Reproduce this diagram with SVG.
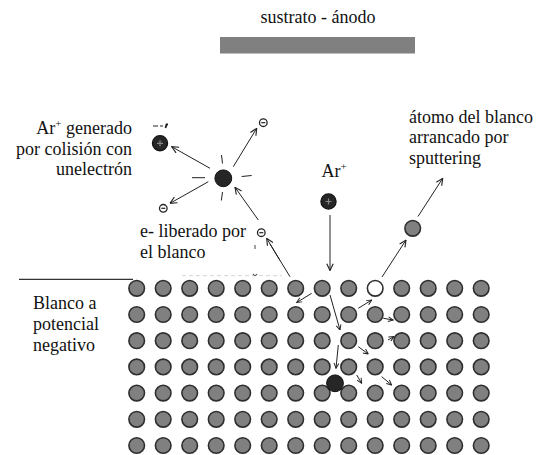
<svg xmlns="http://www.w3.org/2000/svg" width="538" height="455" viewBox="0 0 538 455">
  <style>
    .lbl { font-family: "Liberation Serif", serif; font-size: 18px; fill: #111; }
    .sup { font-size: 11px; }
    .ln { stroke: #222; stroke-width: 1; fill: none; }
    .arr { stroke: #222; stroke-width: 1; fill: none; marker-end: url(#head); }
    .arr-s { stroke: #222; stroke-width: 1; fill: none; marker-end: url(#headS); }
    .atom { fill: #808080; stroke: #2e2e2e; stroke-width: 1.6; }
    .ion { fill: #262626; stroke: #111; stroke-width: 1.2; }
    .vac { fill: #fff; stroke: #2e2e2e; stroke-width: 1.6; }
    .el { fill: #fff; stroke: #222; stroke-width: 1.3; }
  </style>
  <defs>
    <marker id="head" viewBox="0 0 10 10" refX="9.5" refY="5" markerWidth="8" markerHeight="8" markerUnits="userSpaceOnUse" orient="auto">
      <path d="M1,1 L9.5,5 L1,9" fill="none" stroke="#222" stroke-width="1.4"/>
    </marker>
    <marker id="headS" viewBox="0 0 10 10" refX="9.5" refY="5" markerWidth="6" markerHeight="6" markerUnits="userSpaceOnUse" orient="auto">
      <path d="M1,1 L9.5,5 L1,9" fill="none" stroke="#222" stroke-width="1.6"/>
    </marker>
    <circle id="atom" r="7.8" class="atom"/>
    <!-- electron: small open circle with minus sign -->
    <g id="electron">
      <circle r="3.8" class="el"/>
      <line x1="-2" y1="0" x2="2" y2="0" stroke="#222" stroke-width="1.2"/>
    </g>
    <!-- positive ion: dark disc with plus sign -->
    <g id="plusIon">
      <circle r="7.6" class="ion"/>
      <path d="M-3,0 H3 M0,-3 V3" stroke="#888" stroke-width="1.2"/>
    </g>
  </defs>

  <rect width="538" height="455" fill="#fff"/>

  <!-- substrate / anode -->
  <g id="anode">
    <text class="lbl" font-family="Liberation Serif" x="318" y="23" text-anchor="middle">sustrato - ánodo</text>
    <rect x="220" y="37" width="195" height="16.5" fill="#808080"/>
  </g>

  <!-- target surface label -->
  <g id="target-label">
    <line x1="19" y1="279.3" x2="133" y2="279.3" stroke="#333" stroke-width="1.2"/>
    <text class="lbl" font-family="Liberation Serif" x="33" y="309">Blanco a</text>
    <text class="lbl" font-family="Liberation Serif" x="33" y="330">potencial</text>
    <text class="lbl" font-family="Liberation Serif" x="33" y="351">negativo</text>
  </g>

  <!-- target lattice: 14 columns x 7 rows -->
  <g id="lattice">
    <use href="#atom" x="136.7" y="288.3"/><use href="#atom" x="163.2" y="288.3"/><use href="#atom" x="189.7" y="288.3"/><use href="#atom" x="216.2" y="288.3"/><use href="#atom" x="242.7" y="288.3"/><use href="#atom" x="269.2" y="288.3"/><use href="#atom" x="295.7" y="288.3"/><use href="#atom" x="322.2" y="288.3"/><use href="#atom" x="348.7" y="288.3"/><use href="#atom" x="401.7" y="288.3"/><use href="#atom" x="428.2" y="288.3"/><use href="#atom" x="454.7" y="288.3"/><use href="#atom" x="481.2" y="288.3"/>
    <use href="#atom" x="136.7" y="314.5"/><use href="#atom" x="163.2" y="314.5"/><use href="#atom" x="189.7" y="314.5"/><use href="#atom" x="216.2" y="314.5"/><use href="#atom" x="242.7" y="314.5"/><use href="#atom" x="269.2" y="314.5"/><use href="#atom" x="295.7" y="314.5"/><use href="#atom" x="322.2" y="314.5"/><use href="#atom" x="348.7" y="314.5"/><use href="#atom" x="375.2" y="314.5"/><use href="#atom" x="401.7" y="314.5"/><use href="#atom" x="428.2" y="314.5"/><use href="#atom" x="454.7" y="314.5"/><use href="#atom" x="481.2" y="314.5"/>
    <use href="#atom" x="136.7" y="340.7"/><use href="#atom" x="163.2" y="340.7"/><use href="#atom" x="189.7" y="340.7"/><use href="#atom" x="216.2" y="340.7"/><use href="#atom" x="242.7" y="340.7"/><use href="#atom" x="269.2" y="340.7"/><use href="#atom" x="295.7" y="340.7"/><use href="#atom" x="322.2" y="340.7"/><use href="#atom" x="348.7" y="340.7"/><use href="#atom" x="375.2" y="340.7"/><use href="#atom" x="401.7" y="340.7"/><use href="#atom" x="428.2" y="340.7"/><use href="#atom" x="454.7" y="340.7"/><use href="#atom" x="481.2" y="340.7"/>
    <use href="#atom" x="136.7" y="366.9"/><use href="#atom" x="163.2" y="366.9"/><use href="#atom" x="189.7" y="366.9"/><use href="#atom" x="216.2" y="366.9"/><use href="#atom" x="242.7" y="366.9"/><use href="#atom" x="269.2" y="366.9"/><use href="#atom" x="295.7" y="366.9"/><use href="#atom" x="322.2" y="366.9"/><use href="#atom" x="348.7" y="366.9"/><use href="#atom" x="375.2" y="366.9"/><use href="#atom" x="401.7" y="366.9"/><use href="#atom" x="428.2" y="366.9"/><use href="#atom" x="454.7" y="366.9"/><use href="#atom" x="481.2" y="366.9"/>
    <use href="#atom" x="136.7" y="393.1"/><use href="#atom" x="163.2" y="393.1"/><use href="#atom" x="189.7" y="393.1"/><use href="#atom" x="216.2" y="393.1"/><use href="#atom" x="242.7" y="393.1"/><use href="#atom" x="269.2" y="393.1"/><use href="#atom" x="295.7" y="393.1"/><use href="#atom" x="322.2" y="393.1"/><use href="#atom" x="348.7" y="393.1"/><use href="#atom" x="375.2" y="393.1"/><use href="#atom" x="401.7" y="393.1"/><use href="#atom" x="428.2" y="393.1"/><use href="#atom" x="454.7" y="393.1"/><use href="#atom" x="481.2" y="393.1"/>
    <use href="#atom" x="136.7" y="419.3"/><use href="#atom" x="163.2" y="419.3"/><use href="#atom" x="189.7" y="419.3"/><use href="#atom" x="216.2" y="419.3"/><use href="#atom" x="242.7" y="419.3"/><use href="#atom" x="269.2" y="419.3"/><use href="#atom" x="295.7" y="419.3"/><use href="#atom" x="322.2" y="419.3"/><use href="#atom" x="348.7" y="419.3"/><use href="#atom" x="375.2" y="419.3"/><use href="#atom" x="401.7" y="419.3"/><use href="#atom" x="428.2" y="419.3"/><use href="#atom" x="454.7" y="419.3"/><use href="#atom" x="481.2" y="419.3"/>
    <use href="#atom" x="136.7" y="445.5"/><use href="#atom" x="163.2" y="445.5"/><use href="#atom" x="189.7" y="445.5"/><use href="#atom" x="216.2" y="445.5"/><use href="#atom" x="242.7" y="445.5"/><use href="#atom" x="269.2" y="445.5"/><use href="#atom" x="295.7" y="445.5"/><use href="#atom" x="322.2" y="445.5"/><use href="#atom" x="348.7" y="445.5"/><use href="#atom" x="375.2" y="445.5"/><use href="#atom" x="401.7" y="445.5"/><use href="#atom" x="428.2" y="445.5"/><use href="#atom" x="454.7" y="445.5"/><use href="#atom" x="481.2" y="445.5"/>
  </g>

  <!-- vacancy left by the sputtered atom -->
  <g id="vacancy">
    <circle cx="375.2" cy="288.3" r="7.8" class="vac"/>
  </g>

  <!-- implanted Ar atom -->
  <g id="implanted-ar">
    <circle cx="335" cy="383.3" r="8.4" fill="#262626" stroke="#111" stroke-width="1"/>
  </g>

  <!-- faint surface marks -->
  <g id="surface-marks">
    <line x1="182" y1="275.7" x2="282" y2="275.7" stroke="#d4d4d4" stroke-width="1" stroke-dasharray="4 3"/>
    <path d="M253,274 q2,3 4,0" stroke="#444" stroke-width="1.2" fill="none"/>
    <line x1="255" y1="245" x2="255" y2="249" stroke="#444" stroke-width="1"/>
  </g>

  <!-- incoming Ar+ ion -->
  <g id="ar-ion">
    <text class="lbl" font-family="Liberation Serif" x="321.5" y="176.5">Ar<tspan class="sup" dy="-7">+</tspan></text>
    <use href="#plusIon" x="328.5" y="201.5"/>
  </g>

  <!-- sputtered target atom -->
  <g id="sputtered-atom">
    <text class="lbl" font-family="Liberation Serif" x="409" y="122.5">átomo del blanco</text>
    <text class="lbl" font-family="Liberation Serif" x="409" y="143">arrancado por</text>
    <text class="lbl" font-family="Liberation Serif" x="409" y="163.5">sputtering</text>
    <circle cx="412.7" cy="228.3" r="7.8" class="atom"/>
  </g>

  <!-- secondary electron released from the target -->
  <g id="secondary-electron">
    <text class="lbl" font-family="Liberation Serif" x="140" y="237">e- liberado por</text>
    <text class="lbl" font-family="Liberation Serif" x="140" y="257.5">el blanco</text>
    <use href="#electron" x="261.3" y="232.7"/>
  </g>

  <!-- ionising collision in the gas -->
  <g id="collision">
    <circle cx="223.3" cy="178.3" r="8.4" fill="#262626" stroke="#111" stroke-width="1"/>
    <path class="ln" d="M192,177.7 H205 M241.7,176.5 L251.7,175.5 M221.5,155 L222.5,163.5 M222.5,192 L221.3,200.5"/>
    <use href="#electron" x="263.3" y="122.7"/>
    <use href="#electron" x="163.3" y="208.3"/>
  </g>

  <!-- newly generated Ar+ ion -->
  <g id="new-ion">
    <text class="lbl" font-family="Liberation Serif" x="132" y="134" text-anchor="end">Ar<tspan class="sup" dy="-7">+</tspan><tspan dy="7"> generado</tspan></text>
    <text class="lbl" font-family="Liberation Serif" x="132" y="154.5" text-anchor="end">por colisión con</text>
    <text class="lbl" font-family="Liberation Serif" x="132" y="175" text-anchor="end">unelectrón</text>
    <use href="#plusIon" x="160" y="143.3"/>
    <path d="M153,126 H158 M160,126 H163" stroke="#222" stroke-width="1"/>
    <path d="M165.5,128 L166.5,124.5 L168,124.5" stroke="#222" stroke-width="1.8" fill="none"/>
  </g>

  <!-- trajectories -->
  <g id="connectors">
    <line class="arr" x1="330" y1="215" x2="330" y2="270.5"/>
    <line class="arr" x1="382" y1="277" x2="406" y2="240"/>
    <line class="arr" x1="418" y1="216.5" x2="442.7" y2="178.3"/>
    <line class="ln" x1="290" y1="276.7" x2="270" y2="244"/>
    <line class="arr" x1="280" y1="260.5" x2="266.7" y2="238.3"/>
    <line class="arr" x1="258.3" y1="220" x2="235" y2="187.3"/>
    <line class="arr" x1="210" y1="168.3" x2="171.7" y2="146.7"/>
    <line class="arr" x1="233.3" y1="166.7" x2="256.7" y2="128.3"/>
    <line class="arr" x1="208.3" y1="181.7" x2="170" y2="203.3"/>

    <!-- collision cascade inside the target -->
    <line class="arr-s" x1="311.7" y1="293.3" x2="296.7" y2="302.5"/>
    <line class="arr-s" x1="330" y1="295" x2="340" y2="330"/>
    <line class="arr-s" x1="358.3" y1="308.3" x2="371.7" y2="300"/>
    <line class="arr-s" x1="383.3" y1="318.3" x2="393.3" y2="320"/>
    <line class="arr-s" x1="388" y1="340" x2="394" y2="336.5"/>
    <line class="arr-s" x1="358.3" y1="346.7" x2="368.3" y2="354"/>
    <line class="arr-s" x1="338.3" y1="345" x2="336" y2="368.3"/>
    <line class="arr-s" x1="356.7" y1="375" x2="361.7" y2="383.3"/>
    <line class="arr-s" x1="381.7" y1="376.7" x2="391.7" y2="385"/>
  </g>
</svg>
